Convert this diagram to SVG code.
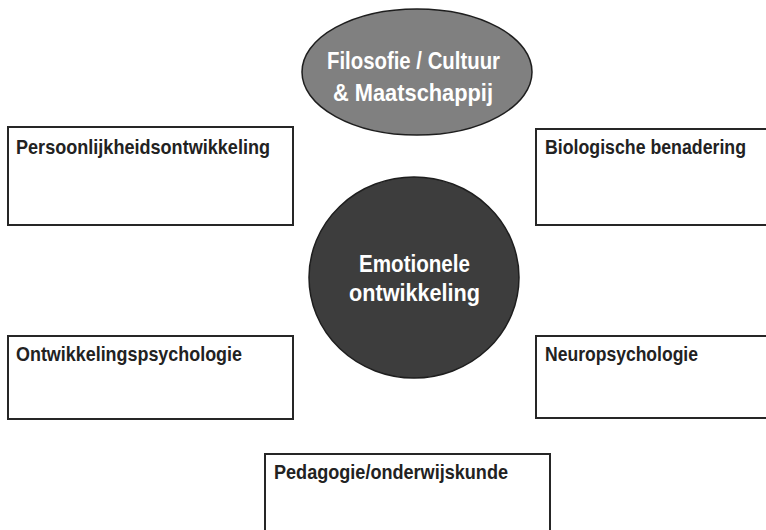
<svg xmlns="http://www.w3.org/2000/svg" width="766" height="530" viewBox="0 0 766 530">
<style>
.box{fill:#ffffff;stroke:#262626;stroke-width:2}
.lbl{font-family:"Liberation Sans",Arial,sans-serif;font-weight:bold;font-size:20.5px;fill:#222222}
.wt{font-family:"Liberation Sans",Arial,sans-serif;font-weight:bold;font-size:24.5px;fill:#ffffff;text-anchor:middle}
</style>
<rect width="766" height="530" fill="#ffffff"/>
<g id="connectors"></g>
<g id="filosofie">
<ellipse cx="417" cy="72" rx="115" ry="63" fill="#808080" stroke="#1e1e1e" stroke-width="1.5"/>
<text class="wt" x="413.5" y="68.5" textLength="173" lengthAdjust="spacingAndGlyphs">Filosofie / Cultuur</text>
<text class="wt" x="413" y="100.5" textLength="160" lengthAdjust="spacingAndGlyphs">&amp; Maatschappij</text>
</g>
<g id="emotionele">
<ellipse cx="414" cy="277.5" rx="105" ry="100.5" fill="#3d3d3d" stroke="#1e1e1e" stroke-width="1.5"/>
<text class="wt" x="414.5" y="272" textLength="111" lengthAdjust="spacingAndGlyphs">Emotionele</text>
<text class="wt" x="414.5" y="300.5" textLength="131" lengthAdjust="spacingAndGlyphs">ontwikkeling</text>
</g>
<g id="persoonlijkheid">
<rect class="box" x="8" y="127" width="285" height="98"/>
<text class="lbl" x="16" y="153.5" textLength="254" lengthAdjust="spacingAndGlyphs">Persoonlijkheidsontwikkeling</text>
</g>
<g id="biologisch">
<rect class="box" x="536" y="129" width="231" height="96"/>
<text class="lbl" transform="translate(545,153.5) scale(0.86,1)" x="0" y="0" textLength="233.7" lengthAdjust="spacingAndGlyphs">Biologische benadering</text>
</g>
<g id="ontwikkelingspsychologie">
<rect class="box" x="8" y="336" width="285" height="83"/>
<text class="lbl" x="16" y="360.5" textLength="226" lengthAdjust="spacingAndGlyphs">Ontwikkelingspsychologie</text>
</g>
<g id="neuropsychologie">
<rect class="box" x="536" y="336" width="231" height="82"/>
<text class="lbl" x="545" y="360.5" textLength="153" lengthAdjust="spacingAndGlyphs">Neuropsychologie</text>
</g>
<g id="pedagogie">
<rect class="box" x="265" y="454" width="285" height="77"/>
<text class="lbl" x="274" y="478.5" textLength="234" lengthAdjust="spacingAndGlyphs">Pedagogie/onderwijskunde</text>
</g>
</svg>
